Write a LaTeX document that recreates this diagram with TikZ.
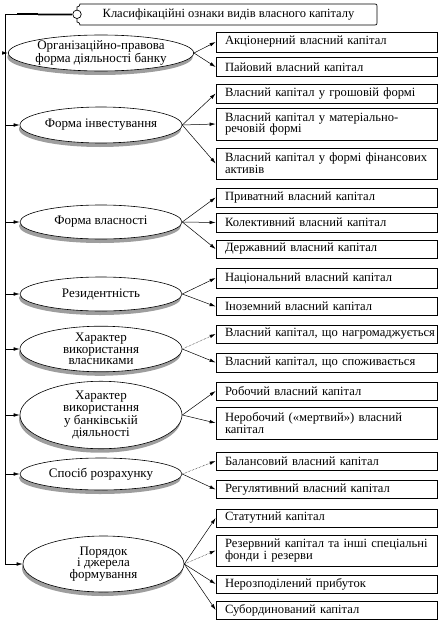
\documentclass[tikz,border=0pt]{standalone}
\usepackage{fontspec}
\setmainfont{Liberation Serif}
\usetikzlibrary{shapes.geometric,shadows,arrows.meta}
\newcommand{\oneline}[1]{\mbox{#1}}
\begin{document}
\begin{tikzpicture}[x=1pt,y=-1pt,
  font=\fontsize{12.5}{12}\selectfont,
  ell/.style={ellipse, draw, line width=0.6pt, fill=white, inner sep=0pt, minimum width=162pt, align=center,
    font=\fontsize{13}{11.8}\selectfont,
    drop shadow={shadow xshift=-1pt, shadow yshift=-4pt, fill=black!38, opacity=1}},
  bx/.style={rectangle, draw, line width=0.7pt, inner xsep=9pt, inner ysep=0pt, text width=203pt, align=left,
    font=\fontsize{12.6}{11.8}\selectfont},
  arr/.style={-{Latex[length=6pt,width=3.5pt]}, line width=0.5pt},
  darr/.style={arr, densely dotted},
]
\useasboundingbox (0,0) rectangle (443,621);

% title
\draw[line width=0.7pt] (80,4) -- (375,4) .. controls (376.5,4) and (377,4.5) .. (377,6) -- (377,23)
  .. controls (377,24.5) and (376.5,25) .. (375,25) -- (80,25)
  .. controls (80,23.34) and (78.66,22) .. (77,22) -- (77,7)
  .. controls (78.66,7) and (80,5.66) .. (80,4) -- cycle;
\node (title) at (228.5,14.5) {Класифікаційні ознаки видів власного капіталу};
\node[circle, draw, line width=0.7pt, fill=white, inner sep=0pt, minimum size=8.5pt] (knob) at (77,14.3) {};
\coordinate (top) at (5,14.3);
\draw[line width=0.6pt] (top) -- (17,14.3);
\draw[line width=2pt] (17,14.3) -- (38,14.3);
\draw[line width=3pt, black!35] (38,14.3) -- (knob.west);
\draw[line width=0.6pt] (38,14.3) -- (knob.west);

% ellipses
\node[ell, minimum height=36pt] (e1) at (101,53) {Організаційно-правова\\форма діяльності банку};
\node[ell, minimum height=36pt] (e2) at (101,125) {Форма інвестування};
\node[ell, minimum height=34pt] (e3) at (101,222) {Форма власності};
\node[ell, minimum height=34pt] (e4) at (101,294) {Резидентність};
\node[ell, minimum height=44pt] (e5) at (101,349) {Характер\\використання\\власниками};
\node[ell, minimum height=56pt] (e6) at (101,415) {Характер\\використання\\у банківській\\діяльності};
\node[ell, minimum height=32pt] (e7) at (101,474) {Спосіб розрахунку};
\node[ell, minimum height=56pt, minimum width=161pt] (e8) at (103.5,564) {Порядок\\і джерела\\формування};

% trunk
\draw[arr] (top) |- (e8.west);
\foreach \e in {e1,e2,e3,e4,e5,e6,e7} \draw[arr] (top |- \e.west) -- (\e.west);

% boxes
\node[bx, minimum height=20pt] (b11) at (326.5,42) {\oneline{Акціонерний власний капітал}};
\node[bx, minimum height=19pt] (b12) at (326.5,67) {\oneline{Пайовий власний капітал}};
\node[bx, minimum height=19pt] (b21) at (326.5,93.5) {\oneline{Власний капітал у грошовій формі}};
\node[bx, minimum height=32pt] (b22) at (326.5,124) {\oneline{Власний капітал у матеріально-}\\\oneline{речовій формі}};
\node[bx, minimum height=31pt] (b23) at (326.5,163.5) {\oneline{Власний капітал у формі фінансових}\\\oneline{активів}};
\node[bx, minimum height=19pt] (b31) at (326.5,197.5) {\oneline{Приватний власний капітал}};
\node[bx, minimum height=19pt] (b32) at (326.5,222.5) {\oneline{Колективний власний капітал}};
\node[bx, minimum height=18pt] (b33) at (326.5,249) {\oneline{Державний власний капітал}};
\node[bx, minimum height=20pt] (b41) at (326.5,278) {\oneline{Національний власний капітал}};
\node[bx, minimum height=18pt] (b42) at (326.5,306.5) {\oneline{Іноземний власний капітал}};
\node[bx, minimum height=18pt] (b51) at (326.5,334) {\oneline{Власний капітал, що нагромаджується}};
\node[bx, minimum height=19pt] (b52) at (326.5,362.5) {\oneline{Власний капітал, що споживається}};
\node[bx, minimum height=18pt] (b61) at (326.5,391) {\oneline{Робочий власний капітал}};
\node[bx, minimum height=32pt] (b62) at (326.5,423) {\oneline{Неробочий («мертвий») власний}\\\oneline{капітал}};
\node[bx, minimum height=18pt] (b71) at (326.5,461) {\oneline{Балансовий власний капітал}};
\node[bx, minimum height=18pt] (b72) at (326.5,489.5) {\oneline{Регулятивний власний капітал}};
\node[bx, minimum height=18pt] (b81) at (326.5,518) {\oneline{Статутний капітал}};
\node[bx, minimum height=31pt] (b82) at (326.5,550.5) {\oneline{Резервний капітал та інші спеціальні}\\\oneline{фонди і резерви}};
\node[bx, minimum height=18pt] (b83) at (326.5,584) {\oneline{Нерозподілений прибуток}};
\node[bx, minimum height=18pt] (b84) at (326.5,610) {\oneline{Субординований капітал}};

% connectors
\foreach \b in {b11,b12} \draw[arr] (e1.east) -- (\b.west);
\foreach \b in {b21,b22,b23} \draw[arr] (e2.east) -- (\b.west);
\foreach \b in {b31,b32,b33} \draw[arr] (e3.east) -- (\b.west);
\foreach \b in {b41,b42} \draw[arr] (e4.east) -- (\b.west);
\draw[darr] (e5.east) -- (b51.west);
\draw[arr] (e5.east) -- (b52.west);
\foreach \b in {b61,b62} \draw[arr] (e6.east) -- (\b.west);
\draw[darr] (e7.east) -- (b71.west);
\draw[arr] (e7.east) -- (b72.west);
\foreach \b in {b81,b83,b84} \draw[arr] (e8.east) -- (\b.west);
\draw[darr] (e8.east) -- (b82.west);
\end{tikzpicture}
\end{document}
